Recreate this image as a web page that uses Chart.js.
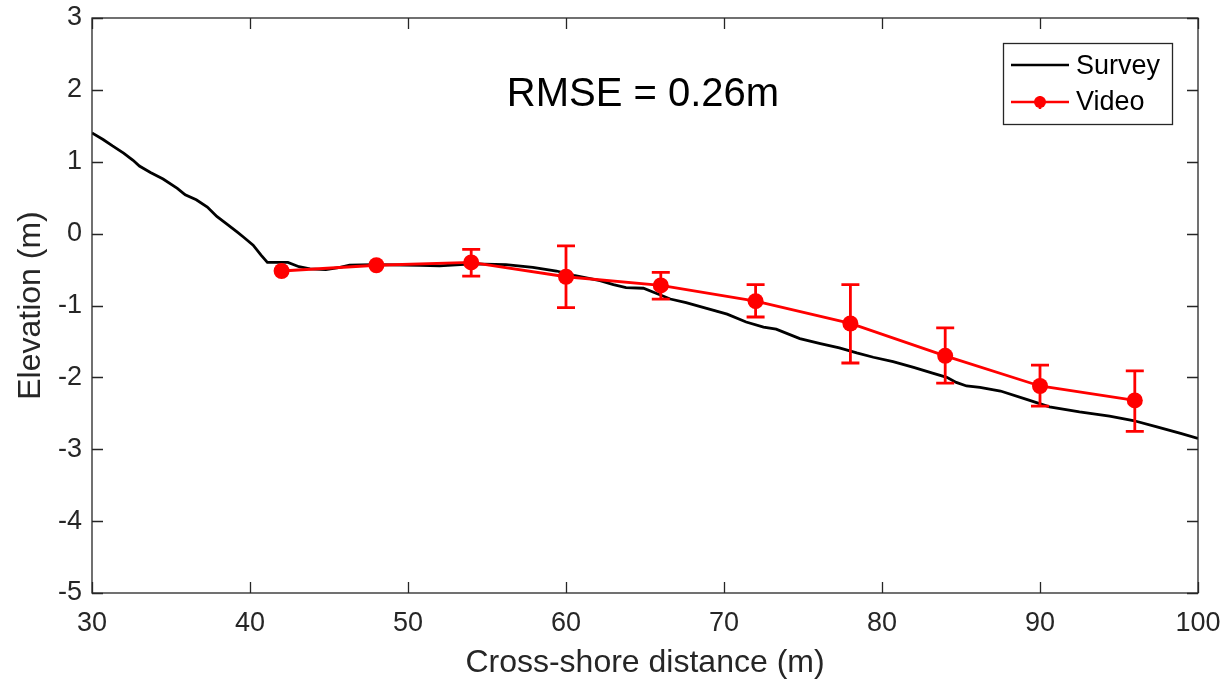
<!DOCTYPE html>
<html>
<head>
<meta charset="utf-8">
<script src="https://cdn.jsdelivr.net/npm/chart.js@4.4.1/dist/chart.umd.min.js"></script>
<style>
  html, body { margin: 0; padding: 0; background: #fff; }
  #wrap { width: 1231px; height: 688px; }
</style>
</head>
<body>
<div id="wrap"><canvas id="chart" width="1231" height="688"></canvas></div>
<script>
// survey profile (black line)
const surveyX = [30, 30.7, 31.3, 32.0, 32.6, 33.0, 33.7, 34.5, 35.4, 35.9, 36.6, 37.3, 37.9, 38.5, 39.2, 39.6,
  40.2, 40.7, 41.1, 42.4, 43.1, 43.8, 44.8, 45.7, 46.3, 47.8, 50.8, 52.0, 54.1, 56.2, 57.9, 59.4,
  60.5, 62.15, 63.0, 63.8, 64.9, 65.7, 66.6, 67.6, 68.9, 70.2, 71.4, 72.5, 73.3, 74.8, 76.1, 77.3,
  78.4, 79.45, 80.7, 82.0, 83.2, 84.1, 84.7, 85.35, 86.2, 87.5, 89.2, 90.6, 92.5, 94.4, 95.9, 97.4,
  98.9, 100];
const surveyY = [1.40, 1.31, 1.22, 1.12, 1.02, 0.94, 0.85, 0.76, 0.63, 0.54, 0.47, 0.37, 0.24, 0.14, 0.02, -0.05,
  -0.16, -0.30, -0.40, -0.40, -0.46, -0.49, -0.50, -0.47, -0.44, -0.43, -0.44, -0.45, -0.42, -0.43, -0.47, -0.52,
  -0.58, -0.655, -0.71, -0.75, -0.76, -0.83, -0.91, -0.96, -1.04, -1.12, -1.23, -1.30, -1.33, -1.46, -1.53, -1.59,
  -1.66, -1.72, -1.78, -1.86, -1.94, -2.00, -2.07, -2.12, -2.14, -2.19, -2.31, -2.41, -2.48, -2.54, -2.60, -2.69,
  -2.78, -2.85];

// video estimates with error bars (null = no bar drawn)
const videoX = [42, 48, 54, 60, 66, 72, 78, 84, 90, 96];
const videoY = [-0.52, -0.44, -0.40, -0.60, -0.72, -0.94, -1.25, -1.70, -2.12, -2.32];
const videoHigh = [null, null, -0.22, -0.17, -0.54, -0.71, -0.71, -1.31, -1.83, -1.91];
const videoLow = [null, null, -0.59, -1.03, -0.91, -1.16, -1.80, -2.08, -2.40, -2.75];

const xTickValues = [30, 40, 50, 60, 70, 80, 90, 100];
const yTickValues = [-5, -4, -3, -2, -1, 0, 1, 2, 3];

const RED = '#ff0000';
const AXIS = '#262626';
const FONT = "'Liberation Sans', Arial, sans-serif";

const errorBars = {
  id: 'errorBars',
  afterDatasetsDraw(chart) {
    const { ctx, scales: { x, y } } = chart;
    ctx.save();
    ctx.strokeStyle = RED;
    ctx.lineWidth = 2.8;
    videoX.forEach((xv, i) => {
      if (videoHigh[i] === null) return;
      const px = x.getPixelForValue(xv);
      const top = y.getPixelForValue(videoHigh[i]);
      const bot = y.getPixelForValue(videoLow[i]);
      ctx.beginPath();
      ctx.moveTo(px, top); ctx.lineTo(px, bot);
      ctx.moveTo(px - 9, top); ctx.lineTo(px + 9, top);
      ctx.moveTo(px - 9, bot); ctx.lineTo(px + 9, bot);
      ctx.stroke();
    });
    ctx.restore();
  }
};

// matlab style box with inward ticks, legend and the RMSE note
const axesBox = {
  id: 'axesBox',
  afterDraw(chart) {
    const { ctx, chartArea: a, scales: { x, y } } = chart;
    const tl = 11;
    ctx.save();
    ctx.strokeStyle = AXIS;
    ctx.lineWidth = 1.3;
    ctx.strokeRect(a.left, a.top, a.right - a.left, a.bottom - a.top);
    ctx.beginPath();
    xTickValues.forEach(v => {
      const px = Math.round(x.getPixelForValue(v)) + 0.5;
      ctx.moveTo(px, a.bottom); ctx.lineTo(px, a.bottom - tl);
      ctx.moveTo(px, a.top); ctx.lineTo(px, a.top + tl);
    });
    yTickValues.forEach(v => {
      const py = Math.round(y.getPixelForValue(v)) + 0.5;
      ctx.moveTo(a.left, py); ctx.lineTo(a.left + tl, py);
      ctx.moveTo(a.right, py); ctx.lineTo(a.right - tl, py);
    });
    ctx.stroke();

    // RMSE text
    ctx.fillStyle = '#000';
    ctx.font = '40px ' + FONT;
    ctx.textAlign = 'center';
    ctx.textBaseline = 'middle';
    ctx.fillText('RMSE = 0.26m', 643, 95);

    // legend
    const lx = 1003, ly = 43, lw = 169, lh = 81;
    ctx.fillStyle = '#fff';
    ctx.fillRect(lx, ly, lw, lh);
    ctx.strokeStyle = AXIS;
    ctx.lineWidth = 1.3;
    ctx.strokeRect(lx + 0.5, ly + 0.5, lw, lh);

    ctx.lineWidth = 2.5;
    ctx.strokeStyle = '#000';
    ctx.beginPath();
    ctx.moveTo(1011, 65); ctx.lineTo(1069, 65);
    ctx.stroke();

    ctx.strokeStyle = RED;
    ctx.beginPath();
    ctx.moveTo(1011, 102); ctx.lineTo(1069, 102);
    ctx.moveTo(1040, 96); ctx.lineTo(1040, 109);
    ctx.stroke();
    ctx.fillStyle = RED;
    ctx.beginPath();
    ctx.arc(1040, 102, 6, 0, Math.PI * 2);
    ctx.fill();

    ctx.fillStyle = '#000';
    ctx.font = '27px ' + FONT;
    ctx.textAlign = 'left';
    ctx.fillText('Survey', 1076, 67);
    ctx.fillText('Video', 1076, 103);
    ctx.restore();
  }
};

new Chart(document.getElementById('chart'), {
  type: 'scatter',
  data: {
    datasets: [
      {
        label: 'Video',
        data: videoX.map((v, i) => ({ x: v, y: videoY[i] })),
        showLine: true,
        borderColor: RED,
        backgroundColor: RED,
        borderWidth: 2.8,
        pointRadius: 8,
        pointBorderWidth: 0,
        tension: 0,
        order: 0,
      },
      {
        label: 'Survey',
        data: surveyX.map((v, i) => ({ x: v, y: surveyY[i] })),
        showLine: true,
        borderColor: '#000',
        borderWidth: 2.8,
        pointRadius: 0,
        tension: 0,
        order: 1,
      },
    ],
  },
  options: {
    responsive: false,
    animation: false,
    layout: { padding: { left: 0, top: 18, right: 33, bottom: 0 } },
    plugins: {
      legend: { display: false },
      tooltip: { enabled: false },
    },
    scales: {
      x: {
        type: 'linear',
        min: 30,
        max: 100,
        afterBuildTicks: s => { s.ticks = xTickValues.map(v => ({ value: v })); },
        afterFit: s => { s.height = 95; s.paddingLeft = 0; s.paddingRight = 0; },
        grid: { display: false, drawTicks: false },
        border: { display: false },
        ticks: { color: AXIS, font: { family: FONT, size: 27 }, padding: 14, maxRotation: 0 },
        title: {
          display: true,
          text: 'Cross-shore distance (m)',
          color: AXIS,
          font: { family: FONT, size: 32 },
          padding: { top: 0, bottom: 6 },
        },
      },
      y: {
        type: 'linear',
        min: -5,
        max: 3,
        afterBuildTicks: s => { s.ticks = yTickValues.map(v => ({ value: v })); },
        afterFit: s => { s.width = 92; s.paddingTop = 0; s.paddingBottom = 0; },
        grid: { display: false, drawTicks: false },
        border: { display: false },
        ticks: { color: AXIS, font: { family: FONT, size: 27 }, padding: 10 },
        title: {
          display: true,
          text: 'Elevation (m)',
          color: AXIS,
          font: { family: FONT, size: 32 },
          padding: { top: 12, bottom: 0 },
        },
      },
    },
  },
  plugins: [errorBars, axesBox],
});
</script>
</body>
</html>
